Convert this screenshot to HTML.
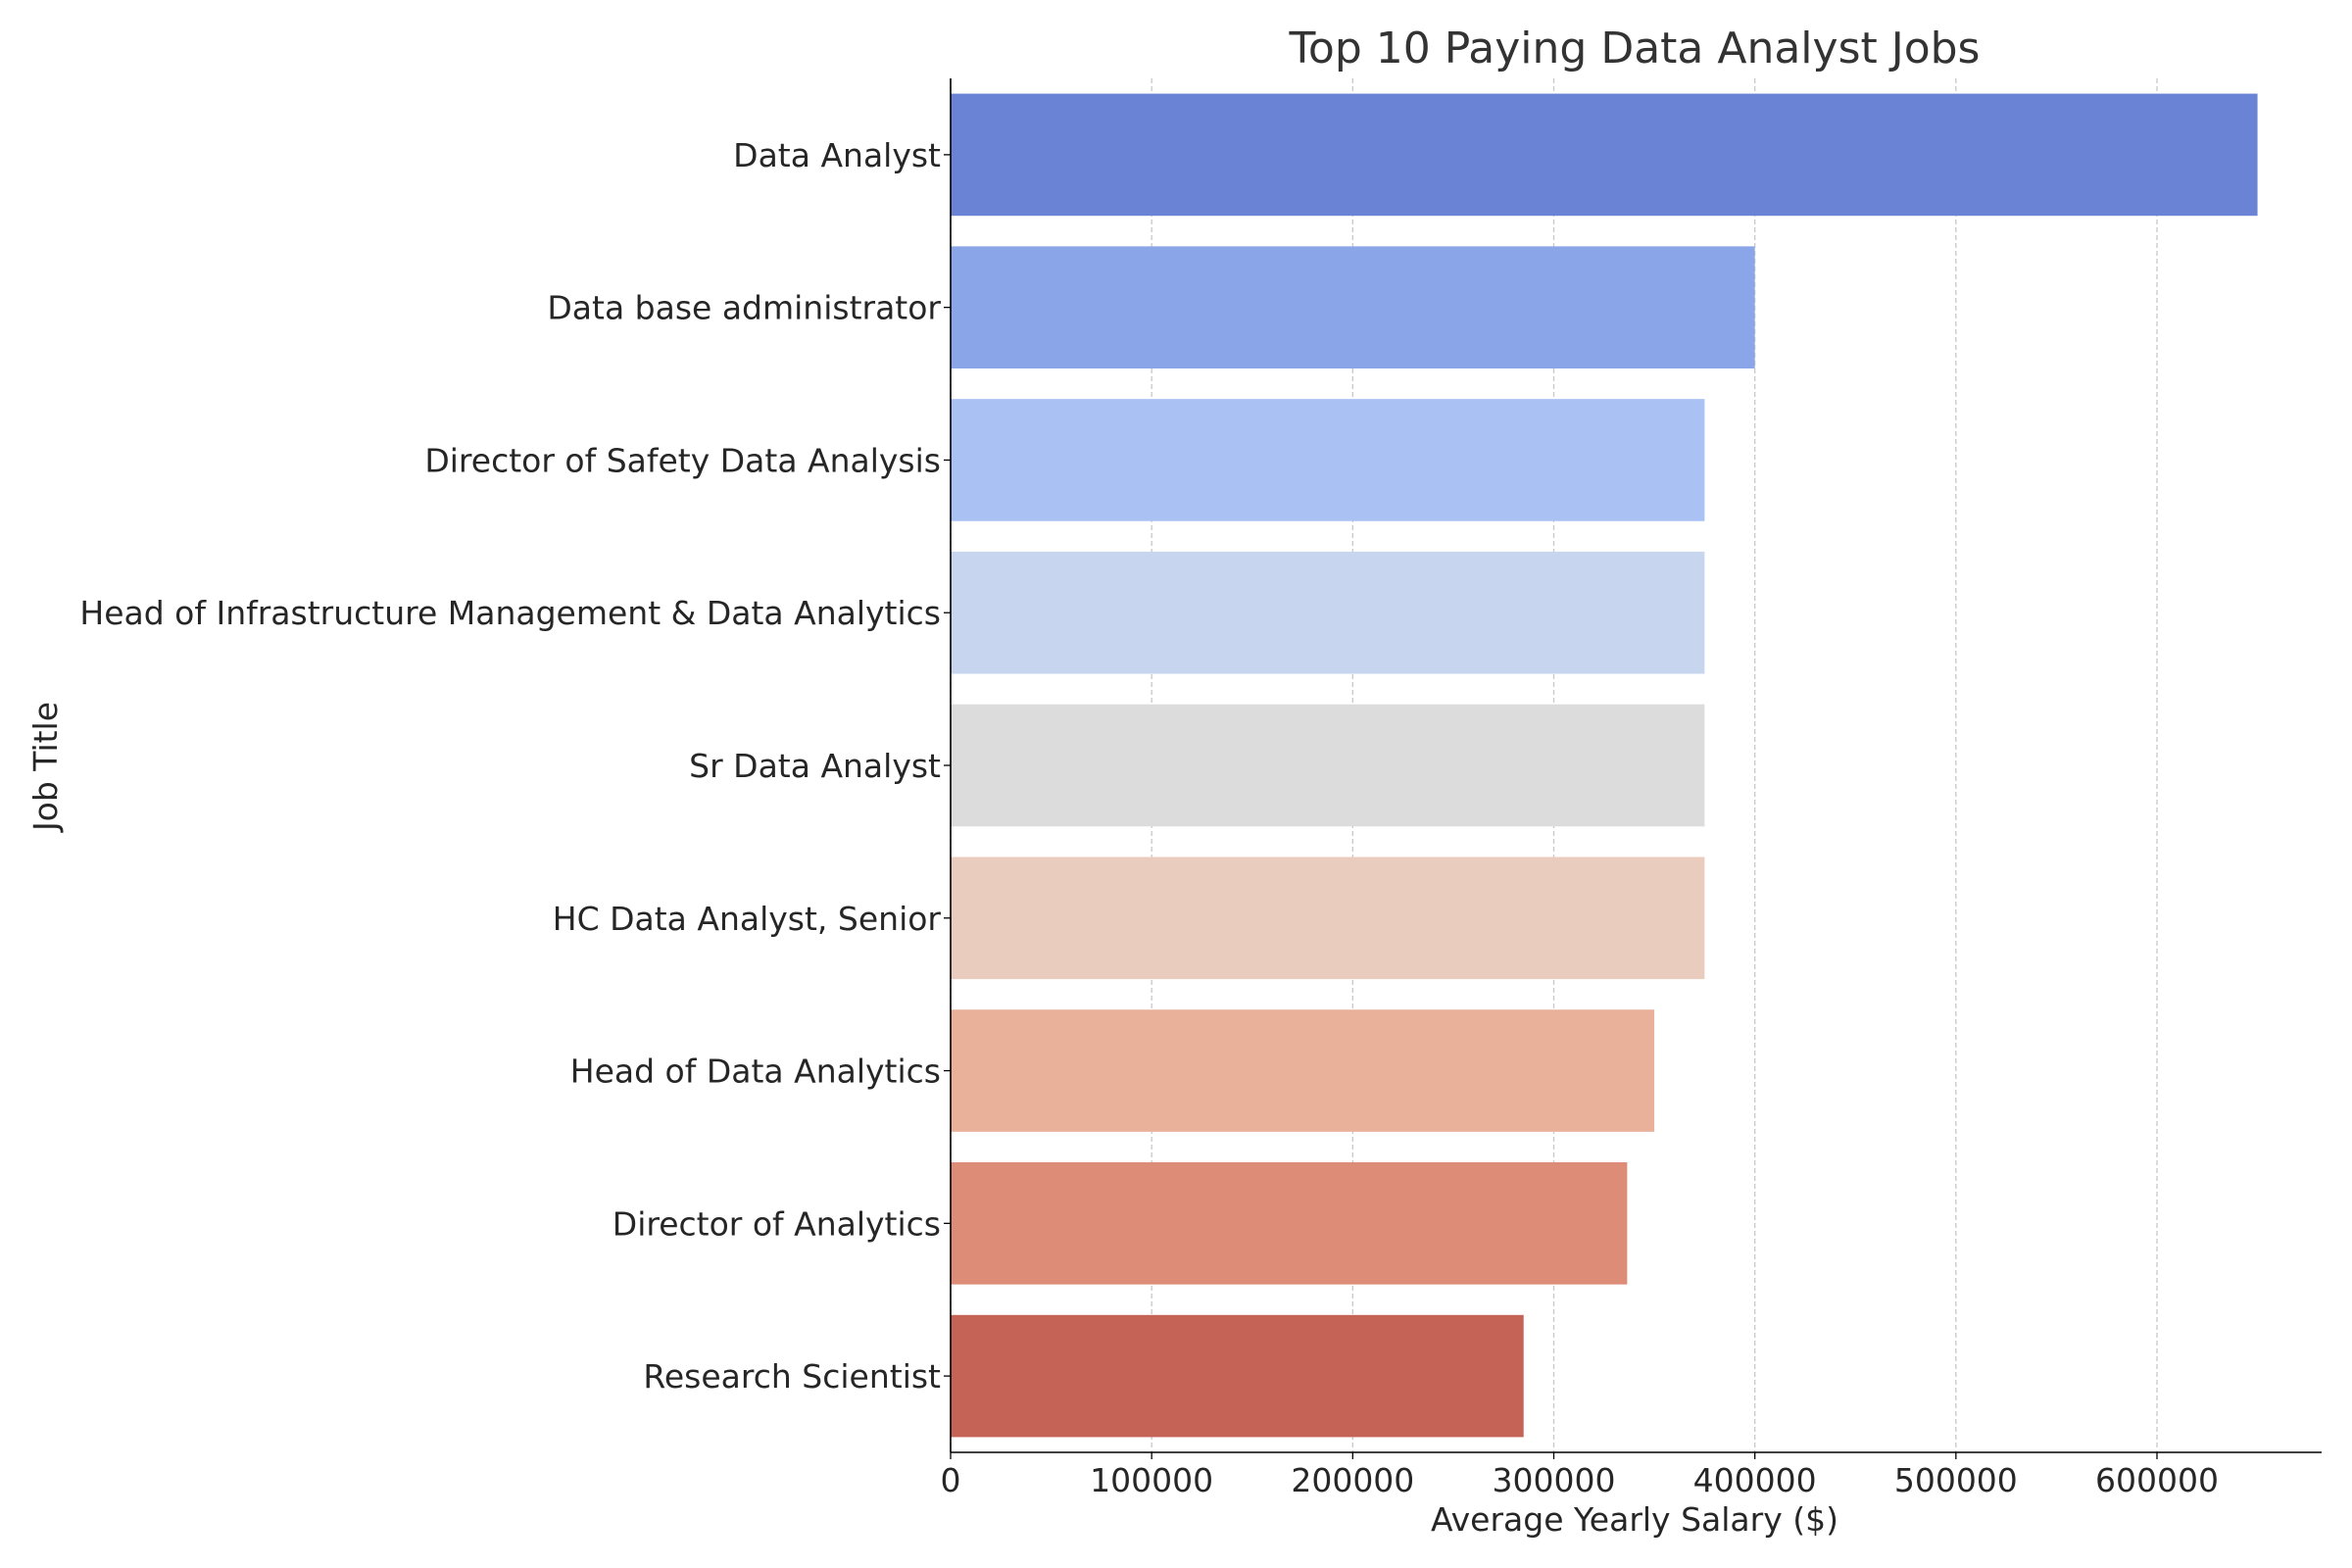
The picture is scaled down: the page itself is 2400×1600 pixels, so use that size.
<!DOCTYPE html>
<html><head><meta charset="utf-8"><style>
html,body{margin:0;padding:0;background:#fff;}
svg{display:block;font-family:"DejaVu Sans","Liberation Sans",sans-serif;}
</style></head><body>
<svg id="chart" width="2400" height="1600" viewBox="0 0 2400 1600">
<rect width="2400" height="1600" fill="#fff"/>
<text x="1668" y="64" font-size="44" fill="#333" text-anchor="middle">Top 10 Paying Data Analyst Jobs</text>
<text x="1668" y="1562" font-size="33" fill="#262626" text-anchor="middle">Average Yearly Salary ($)</text>
<text transform="translate(58,782) rotate(-90)" font-size="33" fill="#262626" text-anchor="middle">Job Title</text>
<g id="grid"></g><g id="bars"></g><g id="axes"></g>
</svg>
<script>
const categories = ["Data Analyst","Data base administrator","Director of Safety Data Analysis","Head of Infrastructure Management & Data Analytics","Sr Data Analyst","HC Data Analyst, Senior","Head of Data Analytics","Director of Analytics","Research Scientist"];
const salaries = [650000,400000,375000,375000,375000,375000,350000,336500,285000];
const xTicks = [0,100000,200000,300000,400000,500000,600000];
const colors = ["#6b83d4","#8aa5e8","#aac2f3","#c7d5ef","#dcdcdc","#eaccbe","#e9b09a","#dc8c77","#c46356"];

const NS="http://www.w3.org/2000/svg";
const L=970,R=2369,T=80,B=1482;
const x=v=>L+v*(2201-970)/600000;
const band=(B-T)/categories.length;
const y=i=>T+band*(i+0.5);
function mk(tag,attrs,parent,text){const e=document.createElementNS(NS,tag);for(const k in attrs)e.setAttribute(k,attrs[k]);if(text!==undefined)e.textContent=text;parent.appendChild(e);return e;}
const grid=document.getElementById('grid'),bars=document.getElementById('bars'),axes=document.getElementById('axes');
xTicks.forEach(t=>{
  const g=mk('line',{x1:x(t),x2:x(t),y1:T,y2:B,stroke:'#c8c8c8','stroke-width':1.3,'stroke-dasharray':'5,3'},grid);
  
  
  const tk=mk('line',{x1:x(t),x2:x(t),y1:B,y2:B+7,stroke:'#000','stroke-width':1.3},axes);
  
  
  const lb=mk('text',{x:x(t),y:B+40,'font-size':33,fill:'#262626','text-anchor':'middle'},axes,String(t));
  
  
});
categories.forEach((c,i)=>{
  const h=band*0.8;
  const r=mk('rect',{x:L,y:y(i)-h/2,width:x(salaries[i])-L,height:h,fill:colors[i]},bars);
  
  
  const tk=mk('line',{x1:L-7,x2:L,y1:y(i),y2:y(i),stroke:'#000','stroke-width':1.3},axes);
  
  
  const lb=mk('text',{x:L-10,y:y(i)+12,'font-size':33,fill:'#262626','text-anchor':'end'},axes,c);
  
  
});
const ls=mk('line',{x1:L,x2:L,y1:T,y2:B,stroke:'#000','stroke-width':1.6},axes);


const bs=mk('line',{x1:L,x2:R,y1:B,y2:B,stroke:'#000','stroke-width':1.6},axes);


</script>
</body></html>
